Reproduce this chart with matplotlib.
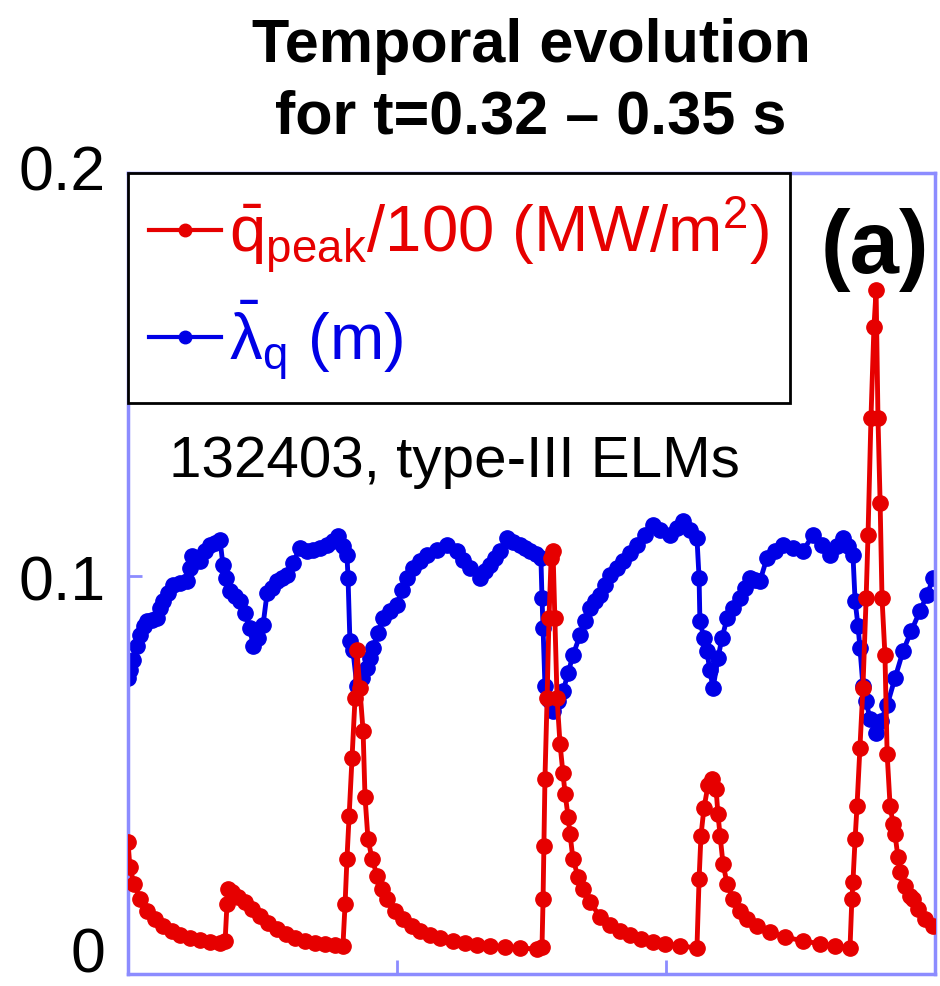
import matplotlib
matplotlib.use("Agg")
import matplotlib.pyplot as plt
from matplotlib.transforms import ScaledTranslation

plt.rcParams['font.family'] = ['Liberation Sans', 'DejaVu Sans']
plt.rcParams['mathtext.fontset'] = 'custom'
plt.rcParams['mathtext.rm'] = 'Liberation Sans'
plt.rcParams['mathtext.it'] = 'Liberation Sans'
plt.rcParams['mathtext.bf'] = 'Liberation Sans:bold'

# time (s) and q_peak/100 (MW/m^2), shot 132403
t_q = [0.32000, 0.32007, 0.32022, 0.32045, 0.32071, 0.32100, 0.32130, 0.32164, 0.32193, 0.32230,
       0.32268, 0.32305, 0.32342, 0.32361, 0.32368, 0.32372, 0.32387, 0.32409, 0.32435, 0.32461,
       0.32491, 0.32520, 0.32554, 0.32587, 0.32621, 0.32658, 0.32695, 0.32732, 0.32770, 0.32799,
       0.32807, 0.32814, 0.32822, 0.32833, 0.32844, 0.32851, 0.32862, 0.32874, 0.32881, 0.32892,
       0.32907, 0.32926, 0.32944, 0.32963, 0.32993, 0.33022, 0.33056, 0.33086, 0.33123, 0.33160,
       0.33208, 0.33253, 0.33297, 0.33346, 0.33401, 0.33457, 0.33520, 0.33539, 0.33543, 0.33546,
       0.33550, 0.33558, 0.33565, 0.33573, 0.33580, 0.33587, 0.33595, 0.33606, 0.33617, 0.33625,
       0.33636, 0.33643, 0.33654, 0.33673, 0.33691, 0.33717, 0.33755, 0.33792, 0.33829, 0.33866,
       0.33907, 0.33952, 0.33996, 0.34052, 0.34115, 0.34123, 0.34130, 0.34141, 0.34156, 0.34171,
       0.34186, 0.34193, 0.34201, 0.34212, 0.34227, 0.34249, 0.34275, 0.34301, 0.34338, 0.34387,
       0.34442, 0.34509, 0.34572, 0.34628, 0.34684, 0.34691, 0.34695, 0.34703, 0.34710, 0.34721,
       0.34732, 0.34744, 0.34751, 0.34762, 0.34773, 0.34781, 0.34788, 0.34796, 0.34803, 0.34814,
       0.34822, 0.34833, 0.34844, 0.34851, 0.34862, 0.34870, 0.34888, 0.34907, 0.34918, 0.34937,
       0.34963, 0.34993]
q_peak = [0.0332, 0.0270, 0.0227, 0.0189, 0.0159, 0.0139, 0.0121, 0.0108, 0.0098, 0.0091,
          0.0086, 0.0081, 0.0078, 0.0083, 0.0176, 0.0214, 0.0207, 0.0194, 0.0181, 0.0164,
          0.0146, 0.0128, 0.0113, 0.0101, 0.0091, 0.0083, 0.0078, 0.0076, 0.0073, 0.0071,
          0.0176, 0.0290, 0.0398, 0.0542, 0.0693, 0.0814, 0.0718, 0.0610, 0.0446, 0.0340,
          0.0290, 0.0247, 0.0214, 0.0189, 0.0159, 0.0139, 0.0121, 0.0108, 0.0098, 0.0091,
          0.0083, 0.0078, 0.0073, 0.0071, 0.0068, 0.0065, 0.0063, 0.0068, 0.0189, 0.0322,
          0.0491, 0.0693, 0.0894, 0.1045, 0.1063, 0.0894, 0.0693, 0.0579, 0.0504, 0.0453,
          0.0395, 0.0353, 0.0290, 0.0244, 0.0214, 0.0181, 0.0144, 0.0123, 0.0108, 0.0098,
          0.0088, 0.0081, 0.0076, 0.0071, 0.0065, 0.0239, 0.0348, 0.0416, 0.0474, 0.0491,
          0.0466, 0.0403, 0.0348, 0.0277, 0.0227, 0.0189, 0.0159, 0.0139, 0.0121, 0.0106,
          0.0093, 0.0083, 0.0076, 0.0071, 0.0065, 0.0189, 0.0232, 0.0340, 0.0421, 0.0567,
          0.0718, 0.0945, 0.1103, 0.1398, 0.1625, 0.1718, 0.1398, 0.1184, 0.0945, 0.0801,
          0.0554, 0.0423, 0.0378, 0.0353, 0.0295, 0.0257, 0.0222, 0.0196, 0.0189, 0.0164,
          0.0139, 0.0121]

# time (s) and lambda_q (m)
t_lam = [0.32000, 0.32007, 0.32019, 0.32033, 0.32045, 0.32059, 0.32071, 0.32089, 0.32108, 0.32119,
         0.32130, 0.32149, 0.32167, 0.32193, 0.32219, 0.32230, 0.32238, 0.32253, 0.32268, 0.32286,
         0.32305, 0.32323, 0.32342, 0.32353, 0.32364, 0.32379, 0.32398, 0.32416, 0.32435, 0.32453,
         0.32465, 0.32483, 0.32502, 0.32517, 0.32535, 0.32554, 0.32572, 0.32591, 0.32613, 0.32639,
         0.32665, 0.32688, 0.32714, 0.32740, 0.32762, 0.32781, 0.32799, 0.32814, 0.32818, 0.32825,
         0.32836, 0.32851, 0.32870, 0.32888, 0.32900, 0.32911, 0.32929, 0.32948, 0.32974, 0.33000,
         0.33018, 0.33037, 0.33059, 0.33086, 0.33111, 0.33149, 0.33186, 0.33223, 0.33245, 0.33271,
         0.33308, 0.33327, 0.33346, 0.33364, 0.33383, 0.33409, 0.33431, 0.33457, 0.33476, 0.33494,
         0.33517, 0.33535, 0.33539, 0.33543, 0.33550, 0.33565, 0.33580, 0.33598, 0.33617, 0.33636,
         0.33654, 0.33680, 0.33699, 0.33717, 0.33736, 0.33755, 0.33773, 0.33792, 0.33818, 0.33840,
         0.33866, 0.33892, 0.33922, 0.33952, 0.33978, 0.34015, 0.34041, 0.34063, 0.34089, 0.34115,
         0.34123, 0.34126, 0.34141, 0.34152, 0.34163, 0.34175, 0.34193, 0.34208, 0.34227, 0.34249,
         0.34275, 0.34294, 0.34312, 0.34331, 0.34349, 0.34375, 0.34405, 0.34435, 0.34472, 0.34509,
         0.34546, 0.34580, 0.34610, 0.34636, 0.34658, 0.34676, 0.34695, 0.34703, 0.34714, 0.34721,
         0.34732, 0.34744, 0.34758, 0.34781, 0.34799, 0.34822, 0.34851, 0.34881, 0.34911, 0.34944,
         0.34970, 0.34993]
lam_q = [0.0743, 0.0763, 0.0788, 0.0824, 0.0851, 0.0874, 0.0887, 0.0889, 0.0894, 0.0919,
         0.0937, 0.0957, 0.0977, 0.0982, 0.0987, 0.1020, 0.1050, 0.1045, 0.1038, 0.1063,
         0.1078, 0.1083, 0.1091, 0.1028, 0.0995, 0.0962, 0.0950, 0.0937, 0.0907, 0.0869,
         0.0824, 0.0844, 0.0877, 0.0957, 0.0970, 0.0987, 0.0995, 0.1003, 0.1033, 0.1071,
         0.1063, 0.1066, 0.1071, 0.1078, 0.1088, 0.1101, 0.1076, 0.1053, 0.0995, 0.0836,
         0.0814, 0.0723, 0.0743, 0.0768, 0.0793, 0.0819, 0.0856, 0.0894, 0.0912, 0.0927,
         0.0965, 0.0995, 0.1020, 0.1038, 0.1053, 0.1066, 0.1078, 0.1063, 0.1040, 0.1020,
         0.0995, 0.1013, 0.1028, 0.1045, 0.1063, 0.1096, 0.1086, 0.1078, 0.1071, 0.1063,
         0.1055, 0.1045, 0.0945, 0.0869, 0.0725, 0.0688, 0.0660, 0.0685, 0.0710, 0.0756,
         0.0801, 0.0851, 0.0887, 0.0919, 0.0937, 0.0952, 0.0977, 0.1003, 0.1020, 0.1038,
         0.1058, 0.1078, 0.1103, 0.1128, 0.1116, 0.1103, 0.1121, 0.1139, 0.1116, 0.1096,
         0.0995, 0.0887, 0.0844, 0.0811, 0.0763, 0.0718, 0.0793, 0.0844, 0.0894, 0.0919,
         0.0945, 0.0970, 0.0995, 0.0990, 0.0987, 0.1045, 0.1063, 0.1078, 0.1071, 0.1063,
         0.1103, 0.1078, 0.1053, 0.1076, 0.1096, 0.1076, 0.1053, 0.0937, 0.0874, 0.0819,
         0.0725, 0.0685, 0.0642, 0.0605, 0.0637, 0.0675, 0.0743, 0.0811, 0.0861, 0.0912,
         0.0952, 0.0995]

RED = "#e60000"
BLUE = "#0000e6"
SPINE = "#8c8cff"

fig = plt.figure(figsize=(9.4, 9.87), dpi=100)
ax = fig.add_axes([128/940, 12/987, 807/940, 801/987])

ax.plot(t_lam, lam_q, color=BLUE, marker="o", markersize=11, linewidth=3.5,
        label=r"$\bar{\lambda}_{\mathrm{q}}$ (m)", zorder=2)
ax.plot(t_q, q_peak, color=RED, marker="o", markersize=11, linewidth=3.5,
        label=r"$\bar{\mathrm{q}}_{\mathrm{peak}}$/100 (MW/m$^2$)", zorder=3)

ax.set_xlim(0.32, 0.35)
ax.set_ylim(0, 0.2013)
ax.set_xticks([0.33, 0.34])
ax.set_xticklabels([])
ax.set_yticks([0, 0.1, 0.2])
ax.set_yticklabels(["0", "0.1", "0.2"])
ax.tick_params(axis="both", direction="in", color=SPINE, width=2, length=10,
               labelsize=45, pad=16)
for s in ax.spines.values():
    s.set_color(SPINE)
    s.set_linewidth(2.5)

# nudge the end labels up a little, as in the original figure
for lbl, dy in zip(ax.get_yticklabels(), [25, 0, 12]):
    lbl.set_transform(lbl.get_transform() + ScaledTranslation(0, dy / 100, fig.dpi_scale_trans))

handles, labels = ax.get_legend_handles_labels()
leg = ax.legend(handles[::-1], labels[::-1], loc="upper left", bbox_to_anchor=(0, 1),
                borderaxespad=0, fontsize=47, handlelength=1.1, handletextpad=0.12,
                numpoints=1, labelspacing=0.35, borderpad=0.32, fancybox=False,
                edgecolor="black", framealpha=1, labelcolor="linecolor")
leg.get_frame().set_linewidth(2)
for line in leg.get_lines():
    line.set_markersize(9)
    line.set_linewidth(3)

ax.text(0.405, 0.64, "132403, type-III ELMs", transform=ax.transAxes,
        ha="center", va="center", fontsize=42)
ax.text(0.993, 0.905, "(a)", transform=ax.transAxes, ha="right", va="center",
        fontsize=64, fontweight="bold")

fig.text(531/940, 1 - 62/987, "Temporal evolution", ha="center", va="baseline",
         fontsize=44, fontweight="bold")
fig.text(531/940, 1 - 133/987, "for t=0.32 \u2013 0.35 s", ha="center", va="baseline",
         fontsize=44, fontweight="bold")

fig.savefig("out.png", dpi=100)
